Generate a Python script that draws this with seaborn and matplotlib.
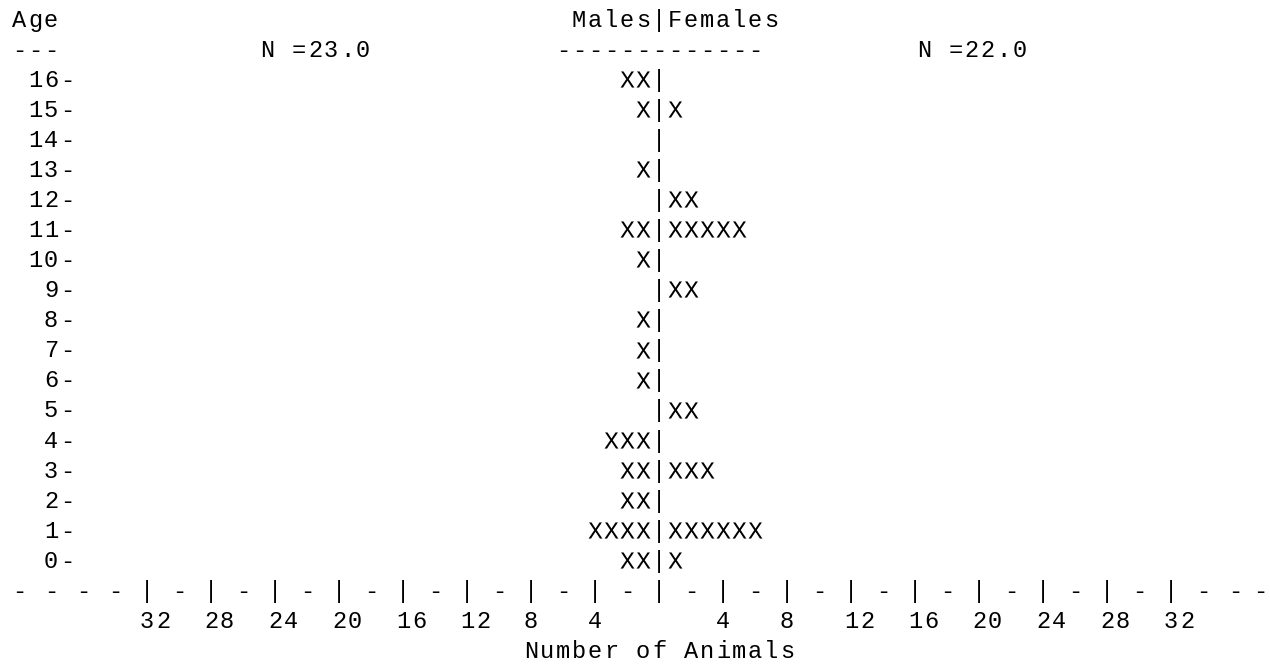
import numpy as np
import pandas as pd
import matplotlib
matplotlib.use("Agg")
import matplotlib.pyplot as plt
import seaborn as sns

# Daten (Anzahl pro Alter 0..16)
ages = list(range(17))
males = [2, 4, 2, 2, 3, 0, 1, 1, 1, 0, 1, 2, 0, 1, 0, 1, 2]
females = [1, 6, 0, 3, 0, 2, 0, 0, 0, 2, 0, 5, 2, 0, 0, 1, 0]
tick_vals = [4, 8, 12, 16, 20, 24, 28, 32]
x_title = "Number of Animals"

sns.set_theme(style="white")
plt.rcParams["font.family"] = ["Liberation Mono", "DejaVu Sans Mono"]
plt.rcParams["mathtext.fontset"] = "custom"
plt.rcParams["mathtext.rm"] = "Liberation Mono"

FS = 17          # Schriftgroesse
BASE = 0.26      # Abstand Zeilenmitte -> Grundlinie (in Zeilen)
CENTER = 40      # Spalte des Mittelstrichs

# Langform: ein Eintrag pro Tier, Maennchen links (negativ)
rows = []
for a, m, f in zip(ages, males, females):
    for k in range(1, m + 1):
        rows.append({"pos": -k, "age": a, "sex": "M"})
    for k in range(1, f + 1):
        rows.append({"pos": k, "age": a, "sex": "F"})
df = pd.DataFrame(rows)

fig = plt.figure(figsize=(12.7, 6.67), dpi=100)
ax = fig.add_axes([0, 0, 1, 1])
ax.set_xlim(-41.1875, 38.1875)
ax.set_ylim(-3.564, 18.632)
ax.axis("off")


def put(col, y, s):
    # jedes Zeichen in seine eigene Spalte setzen (Schreibmaschinen-Raster)
    for i, ch in enumerate(s):
        if ch != " ":
            ax.text(col - CENTER + i, y - BASE, ch, ha="center", va="baseline",
                    fontsize=FS, color="black")


sns.scatterplot(data=df, x="pos", y="age", marker="$\\mathrm{X}$", s=135,
                color="black", linewidth=0, legend=False, ax=ax)

# Kopfzeilen
put(0, 18, "Age")
put(35, 18, "Males|Females")
put(0, 17, "---")
put(15.5, 17, "N =%.1f" % sum(males))
put(34, 17, "-" * 13)
put(56.55, 17, "N =%.1f" % sum(females))

# Alters-Beschriftung und Mittelstrich
for a in ages:
    put(0, a, "%3d-" % a)
    put(CENTER, a, "|")

# x-Achse aus Strichen
line = ""
for c in range(78):
    v = c - CENTER
    if 8 <= c <= 72 and v % 4 == 0:
        line += "|"
    elif c % 2 == 0:
        line += "-"
    else:
        line += " "
put(0, -1, line)
put(77.6, -1, "-")   # letzter Strich knapp am Rand

for t in tick_vals:
    put(CENTER - t, -2, str(t))
    put(CENTER + t, -2, str(t))

put(CENTER - len(x_title) // 2, -3, x_title)

fig.savefig("out.png", dpi=100)
